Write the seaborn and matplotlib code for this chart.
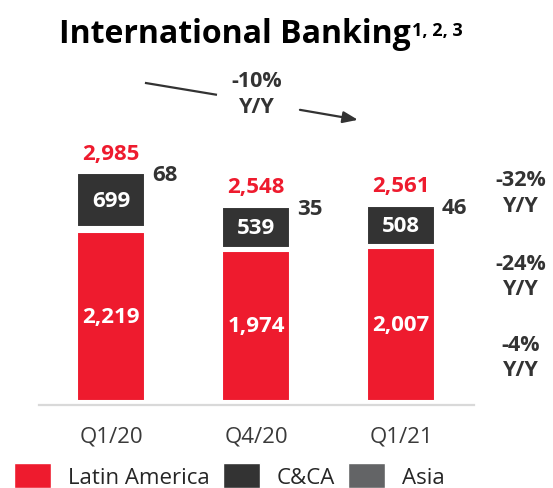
import pandas as pd
import matplotlib.pyplot as plt
import seaborn as sns
from matplotlib.patches import Patch

# Datos
quarters = ["Q1/20", "Q4/20", "Q1/21"]
latam = [2219, 1974, 2007]
ccaa = [699, 539, 508]
asia = [68, 35, 46]
totals = [2985, 2548, 2561]
yoy_labels = ["-32%\nY/Y", "-24%\nY/Y", "-4%\nY/Y"]
total_yoy = "-10%\nY/Y"

RED = "#EE1B2E"
DARK = "#333333"
GREY = "#636466"

df = pd.DataFrame({"Quarter": quarters, "LatAm": latam, "CCA": ccaa, "Asia": asia})
df["LatAmAsia"] = df["LatAm"] + df["Asia"]
df["All"] = df["LatAmAsia"] + df["CCA"]

sns.set_style("white")
plt.rcParams["font.family"] = ["Open Sans", "DejaVu Sans"]

fig = plt.figure(figsize=(5.53, 4.89), dpi=100)
ax = fig.add_axes([38.5 / 553, 87 / 489, 435 / 553, 381 / 489])

# Barras apiladas (de la mas alta a la mas baja)
bar_kw = dict(width=0.47, edgecolor="white", linewidth=1.5, ax=ax)
sns.barplot(data=df, x="Quarter", y="All", color=DARK, saturation=1, **bar_kw)
sns.barplot(data=df, x="Quarter", y="LatAmAsia", color="white", saturation=1, **bar_kw)
sns.barplot(data=df, x="Quarter", y="LatAm", color=RED, saturation=1, **bar_kw)

ax.set_xlim(-0.5, 2.5)
ax.set_ylim(0, 5000)
ax.set_xlabel("")
ax.set_ylabel("")
ax.set_yticks([])
for s in ["left", "right", "top"]:
    ax.spines[s].set_visible(False)
ax.spines["bottom"].set_color("#D9D9D9")
ax.spines["bottom"].set_linewidth(1.6)
ax.spines["bottom"].set_position(("outward", 3))
ax.set_xticks([-0.5, 0.5, 1.5, 2.5], minor=True)
ax.tick_params(axis="x", which="minor", length=6.5, width=1.6, color="#D9D9D9", direction="out")
ax.tick_params(axis="x", which="major", length=0, pad=15, labelsize=16, labelcolor="#3A3A3A")

# Etiquetas
for i in range(len(quarters)):
    ax.text(i, latam[i] / 2, f"{latam[i]:,}", ha="center", va="center",
            color="white", fontsize=16, fontweight="bold")
    mid = latam[i] + asia[i] + ccaa[i] / 2
    ax.text(i, mid, f"{ccaa[i]:,}", ha="center", va="center",
            color="white", fontsize=16, fontweight="bold")
    top = latam[i] + asia[i] + ccaa[i]
    ax.annotate(f"{totals[i]:,}", (i, top), xytext=(0, 14.5), textcoords="offset points",
                ha="center", va="center", color=RED, fontsize=16, fontweight="bold")
    ax.annotate(f"{asia[i]}", (i + 0.235, top), xytext=(5, -1), textcoords="offset points",
                ha="left", va="center", color=DARK, fontsize=16, fontweight="bold")

# Variaciones Y/Y a la derecha
for y, lab in zip([2731, 1641, 578], yoy_labels):
    ax.text(2.828, y, lab, ha="center", va="center", color=DARK, fontsize=15.5,
            fontweight="bold", linespacing=1.3, clip_on=False)

# Variacion total con flecha
ax.text(1.007, 4037, total_yoy, ha="center", va="center", color=DARK, fontsize=15.5,
        fontweight="bold", linespacing=1.3)
ax.plot([0.234, 0.731], [4175, 4018], color=DARK, lw=1.6, solid_capstyle="butt")
ax.annotate("", xy=(1.703, 3690), xytext=(1.303, 3821),
            arrowprops=dict(arrowstyle="-|>,head_length=0.9,head_width=0.35",
                            color=DARK, lw=1.6, shrinkA=0, shrinkB=0))

# Titulo
title = fig.text(59 / 553, 1 - 43 / 489, "International Banking", ha="left", va="baseline",
                 fontsize=23, fontweight="bold", color="black")
fig.canvas.draw()
ax.annotate("1, 2, 3", xy=(1, 1), xycoords=title, xytext=(1, -3), textcoords="offset points",
            ha="left", va="top", fontsize=13, fontweight="bold", color="black",
            annotation_clip=False)

# Leyenda
handles = [Patch(facecolor=RED), Patch(facecolor=DARK), Patch(facecolor=GREY)]
fig.legend(handles, ["Latin America", "C&CA", "Asia"], loc="lower left",
           bbox_to_anchor=(14 / 553, 0), ncol=3, frameon=False, fontsize=16,
           handlelength=1.67, handleheight=1.3, handletextpad=0.75, columnspacing=0.6,
           borderpad=0, borderaxespad=0)

plt.savefig("out.png", dpi=100)
